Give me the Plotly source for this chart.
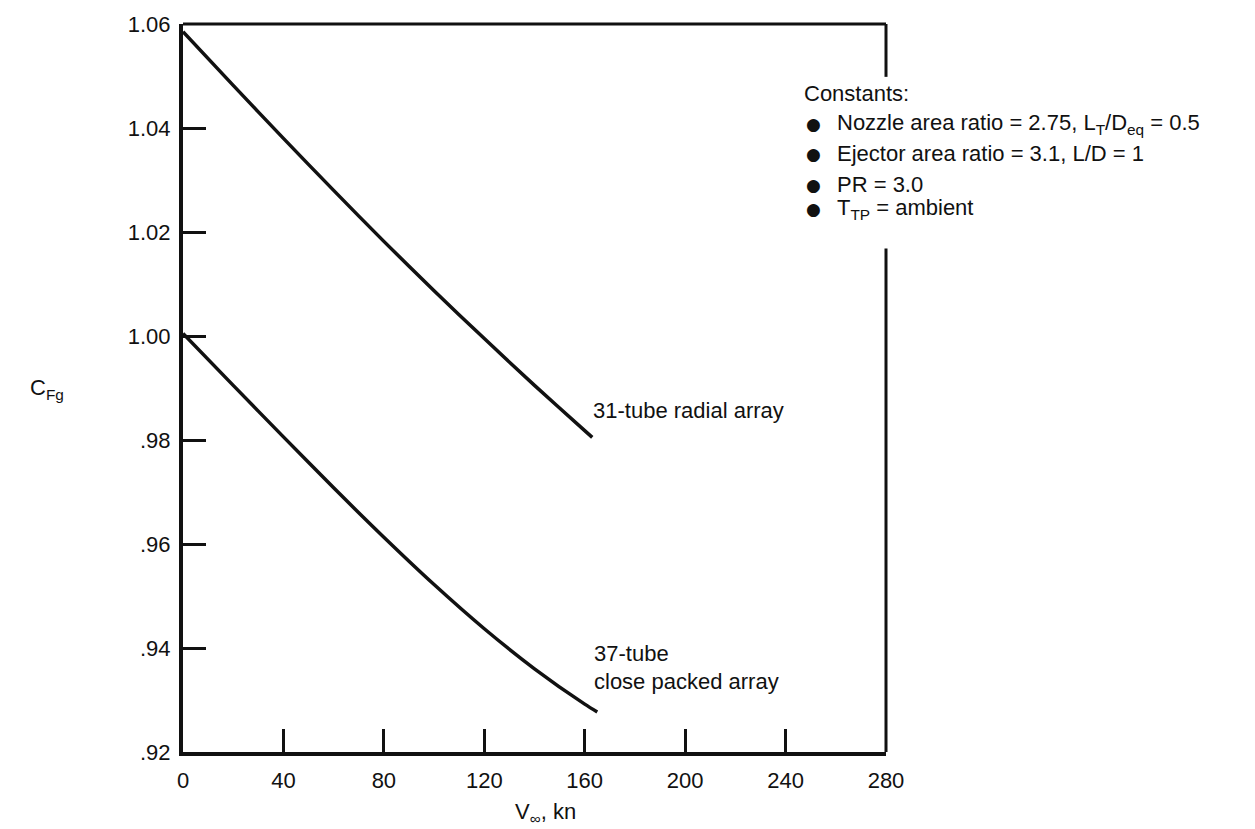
import plotly.graph_objects as go

# ---- data ----
speed_31 = [0, 20, 40, 60, 80, 100, 120, 140, 160, 163]
cfg_31 = [1.0585, 1.0482, 1.0380, 1.0280, 1.0182, 1.0087, 0.9995, 0.9905, 0.9818, 0.9805]

speed_37 = [0, 20, 40, 60, 80, 100, 120, 140, 160, 165]
cfg_37 = [1.0005, 0.9905, 0.9806, 0.9708, 0.9613, 0.9522, 0.9437, 0.9360, 0.9292, 0.9277]

x_ticks = [0, 40, 80, 120, 160, 200, 240, 280]
x_tick_labels = ["0", "40", "80", "120", "160", "200", "240", "280"]
y_ticks = [0.92, 0.94, 0.96, 0.98, 1.00, 1.02, 1.04, 1.06]
y_tick_labels = [".92", ".94", ".96", ".98", "1.00", "1.02", "1.04", "1.06"]

constants = [
    "Nozzle area ratio = 2.75, L<sub>T</sub>/D<sub>eq</sub> = 0.5",
    "Ejector area ratio = 3.1, L/D = 1",
    "PR = 3.0",
    "T<sub>TP</sub> = ambient",
]

FONT = "Liberation Sans, Arial, Helvetica, sans-serif"
FS = 22
BLACK = "#111111"

W, H = 1255, 829
L, R, T, B = 183, 369, 22, 77
PW, PH = W - L - R, H - T - B


def px(xp):
    return (xp - L) / PW


def py(yp):
    return (H - B - yp) / PH


fig = go.Figure()
fig.add_trace(go.Scatter(x=speed_31, y=cfg_31, mode="lines",
                         line=dict(color=BLACK, width=3.5, shape="spline", smoothing=0.8),
                         showlegend=False, hoverinfo="skip"))
fig.add_trace(go.Scatter(x=speed_37, y=cfg_37, mode="lines",
                         line=dict(color=BLACK, width=3.5, shape="spline", smoothing=0.8),
                         showlegend=False, hoverinfo="skip"))

# frame: top and right borders (right border interrupted by the constants box)
fig.add_shape(type="line", xref="paper", yref="paper", x0=0, x1=1, y0=1, y1=1,
              line=dict(color=BLACK, width=3))
fig.add_shape(type="line", xref="paper", yref="paper", x0=1, x1=1, y0=1, y1=py(75),
              line=dict(color=BLACK, width=3))
fig.add_shape(type="line", xref="paper", yref="paper", x0=1, x1=1, y0=py(247), y1=0,
              line=dict(color=BLACK, width=3))

ann = []
# curve labels
ann.append(dict(x=px(591), y=py(410), xref="paper", yref="paper", xanchor="left", yanchor="middle",
                text="31-tube radial array", showarrow=False))
ann.append(dict(x=px(592), y=py(653), xref="paper", yref="paper", xanchor="left", yanchor="middle",
                text="37-tube", showarrow=False))
ann.append(dict(x=px(592), y=py(681), xref="paper", yref="paper", xanchor="left", yanchor="middle",
                text="close packed array", showarrow=False))
# constants box
ann.append(dict(x=px(802), y=py(92), xref="paper", yref="paper", xanchor="left", yanchor="middle",
                text="Constants:", showarrow=False))
rows_y = [122, 152, 183, 208]
for txt, yy in zip(constants, rows_y):
    ann.append(dict(x=px(804), y=py(yy), xref="paper", yref="paper", xanchor="left", yanchor="middle",
                    text="\u25cf", showarrow=False,
                    font=dict(family="DejaVu Sans", size=17, color=BLACK)))
    ann.append(dict(x=px(835), y=py(yy), xref="paper", yref="paper", xanchor="left", yanchor="middle",
                    text=txt, showarrow=False))
# axis titles
ann.append(dict(x=px(28), y=py(388), xref="paper", yref="paper", xanchor="left", yanchor="middle",
                text="C<sub>Fg</sub>", showarrow=False))
ann.append(dict(x=px(545), y=py(813), xref="paper", yref="paper", xanchor="center", yanchor="middle",
                text="V<sub>\u221e</sub>, kn", showarrow=False))

fig.update_layout(
    width=W, height=H,
    margin=dict(l=L, r=R, t=T, b=B),
    paper_bgcolor="white", plot_bgcolor="white",
    font=dict(family=FONT, size=FS, color=BLACK),
    annotations=ann,
    showlegend=False,
    xaxis=dict(range=[0, 280], tickvals=x_ticks, ticktext=x_tick_labels,
               ticks="inside", ticklen=23, tickwidth=2.5, tickcolor=BLACK,
               showline=True, linewidth=4, linecolor=BLACK, showgrid=False, zeroline=False,
               ticklabelstandoff=6, fixedrange=True),
    yaxis=dict(range=[0.92, 1.06], tickvals=y_ticks, ticktext=y_tick_labels,
               ticks="inside", ticklen=23, tickwidth=2.5, tickcolor=BLACK,
               showline=True, linewidth=4, linecolor=BLACK, showgrid=False, zeroline=False,
               ticklabelstandoff=4, fixedrange=True),
)

fig.write_html("out.html")
